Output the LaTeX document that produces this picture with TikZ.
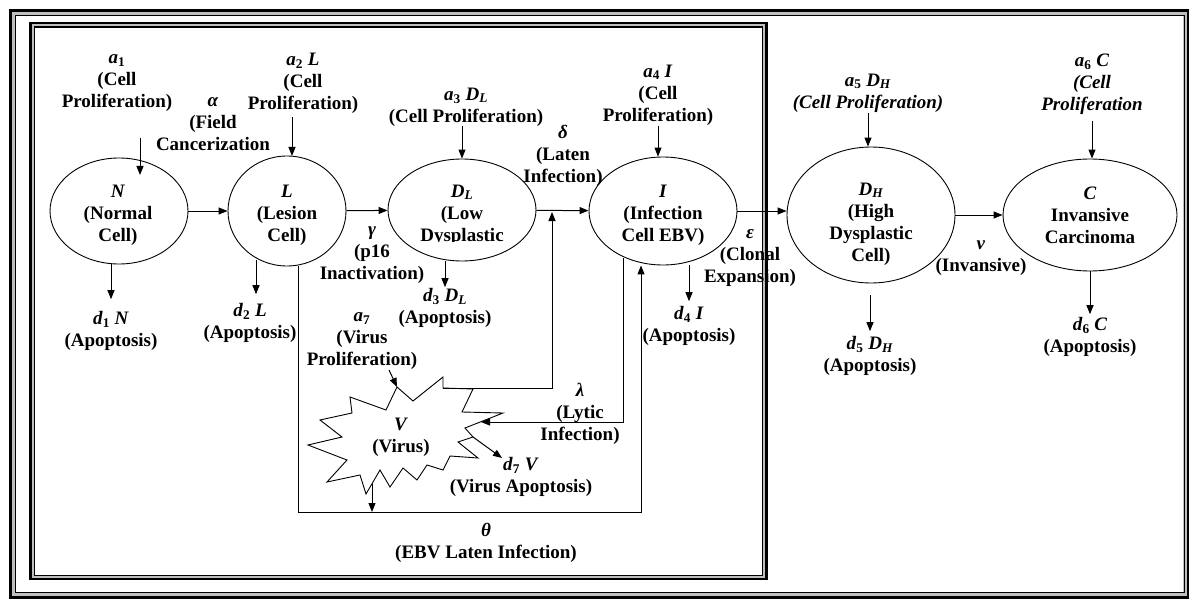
\documentclass[tikz,border=0pt]{standalone}
\usepackage{fontspec}
\setmainfont{Liberation Serif}
\usetikzlibrary{shapes.geometric,arrows.meta,calc}
\begin{document}
\begin{tikzpicture}[x=1pt,y=-1pt,
  every node/.style={font=\fontsize{19}{22}\selectfont\bfseries},
  lbl/.style={align=center,inner sep=0pt,yshift=-3pt},
  cell/.style={draw,ellipse,line width=0.9pt,inner sep=0pt},
  arr/.style={-{Triangle[length=9pt,width=7pt]},line width=1pt},
  bandline/.style={draw=gray!50},
  thickline/.style={draw=black,line width=2.6pt},
  thinline/.style={draw=black,line width=1.1pt}]
\useasboundingbox (0,0) rectangle (1189,599);
% outer frame
\draw[bandline,line width=6pt] (12.9,12.9) rectangle (1186.4,595);
\draw[thickline] (10.3,10.3) rectangle (1187.8,597.4);
\draw[thinline] (15.8,15.8) rectangle (1184.8,592.9);
% inner box
\draw[bandline,line width=4pt] (32.5,25) rectangle (764.5,577);
\draw[thickline] (30.5,23) rectangle (766.5,579);
\draw[thinline] (34.5,27) rectangle (762.5,575.5);

% cells
\node[cell,minimum width=138pt,minimum height=106pt] (N) at (119,211) {};
\node[lbl] (Nt) at (118,212) {\textit{N}\\(Normal\\Cell)};
\node[cell,minimum width=118pt,minimum height=110pt] (L) at (287,211) {};
\node[lbl] (Lt) at (287,212) {\textit{L}\\(Lesion\\Cell)};
\node[cell,minimum width=148pt,minimum height=102pt] (DL) at (462,210) {};
\begin{scope}
  \clip (380,150) rectangle (545,241);
  \node[lbl] (DLt) at (462,212) {\textit{D}\textsubscript{\textit{L}}\\(Low\\Dysplastic};
\end{scope}
\node[cell,minimum width=148pt,minimum height=108pt] (I) at (663,211) {};
\node[lbl] (It) at (663,212) {\textit{I}\\(Infection\\Cell EBV)};
\node[cell,minimum width=168pt,minimum height=136pt] (DH) at (871,215) {};
\node[lbl] (DHt) at (871,221) {\textit{D}\textsubscript{\textit{H}}\\(High\\Dysplastic\\Cell)};
\node[cell,minimum width=174pt,minimum height=112pt] (C) at (1090,215) {};
\node[lbl] (Ct) at (1090,212) {\textit{C}\\Invansive\\Carcinoma};

% labels
\node[lbl] (a1) at (117,80) {\textit{a}\textsubscript{1}\\(Cell\\Proliferation)};
\node[lbl] (al) at (213,121) {\textit{α}\\(Field\\Cancerization};
\node[lbl] (a2) at (303,80) {\textit{a}\textsubscript{2} \textit{L}\\(Cell\\Proliferation)};
\node[lbl] (a3) at (466,104) {\textit{a}\textsubscript{3} \textit{D}\textsubscript{\textit{L}}\\(Cell Proliferation)};
\node[lbl] (de) at (563,153) {\textit{δ}\\(Laten\\Infection)};
\node[lbl] (a4) at (658,92) {\textit{a}\textsubscript{4} \textit{I}\\(Cell\\Proliferation)};
\node[lbl] (a5) at (868,90) {\textit{a}\textsubscript{5} \textit{D}\textsubscript{\textit{H}}\\\textit{(Cell Proliferation)}};
\node[lbl] (a6) at (1092,81) {\textit{a}\textsubscript{6} \textit{C}\\\textit{(Cell}\\\textit{Proliferation}};
\node[lbl] (ga) at (372,252) {\textit{γ}\\(p16\\Inactivation)};
\node[lbl] (ep) at (750,255) {\textit{ε}\\(Clonal\\Expansion)};
\node[lbl] (nu) at (981,255) {\textit{ν}\\(Invansive)};
\node[lbl] (d1) at (111,328) {\textit{d}\textsubscript{1} \textit{N}\\(Apoptosis)};
\node[lbl] (d2) at (250,320) {\textit{d}\textsubscript{2} \textit{L}\\(Apoptosis)};
\node[lbl] (d3) at (445,305) {\textit{d}\textsubscript{3} \textit{D}\textsubscript{\textit{L}}\\(Apoptosis)};
\node[lbl] (d4) at (689,323) {\textit{d}\textsubscript{4} \textit{I}\\(Apoptosis)};
\node[lbl] (d5) at (870,353) {\textit{d}\textsubscript{5} \textit{D}\textsubscript{\textit{H}}\\(Apoptosis)};
\node[lbl] (d6) at (1090,334) {\textit{d}\textsubscript{6} \textit{C}\\(Apoptosis)};
\node[lbl] (a7) at (362,338) {\textit{a}\textsubscript{7}\\(Virus\\Proliferation)};
\node[lbl] (la) at (580,411) {\textit{λ}\\(Lytic\\Infection)};
\node[lbl] (d7) at (521,474) {\textit{d}\textsubscript{7} \textit{V}\\(Virus Apoptosis)};
\node[lbl] (th) at (486,540) {\textit{θ}\\(EBV Laten Infection)};

% virus star
\coordinate (v1) at (350,397); \coordinate (v2) at (386,410);
\coordinate (v3) at (397,387); \coordinate (v4) at (413,401);
\coordinate (v5) at (443,377); \coordinate (v6) at (443,388);
\coordinate (v7) at (473,389); \coordinate (v8) at (462,412);
\coordinate (v9) at (503,413); \coordinate (v10) at (465,428);
\coordinate (v11) at (473,437); \coordinate (v12) at (458,442);
\coordinate (v13) at (478,458); \coordinate (v14) at (450,456);
\coordinate (v15) at (443,470); \coordinate (v16) at (427,465);
\coordinate (v17) at (417,480); \coordinate (v18) at (403,468);
\coordinate (v19) at (390,487); \coordinate (v20) at (380,470);
\coordinate (v21) at (366,494); \coordinate (v22) at (360,475);
\coordinate (v23) at (327,482); \coordinate (v24) at (347,460);
\coordinate (v25) at (308,445); \coordinate (v26) at (342,437);
\coordinate (v27) at (320,420); \coordinate (v28) at (352,413);
\draw[line width=0.9pt,line join=miter] (v1) -- (v2) -- (v3) -- (v4) -- (v5) -- (v6) -- (v7) -- (v8) -- (v9) -- (v10)
  -- (v11) -- (v12) -- (v13) -- (v14) -- (v15) -- (v16) -- (v17) -- (v18) -- (v19) -- (v20)
  -- (v21) -- (v22) -- (v23) -- (v24) -- (v25) -- (v26) -- (v27) -- (v28) -- cycle;
\node[lbl] (V) at (401,434) {\textit{V}\\(Virus)};

% helper coordinates
\coordinate (ka1) at (140,175);
\coordinate (ka2) at (292,156);
\coordinate (kd2) at (256,260);
\coordinate (thb) at (298,512);
\coordinate (thr) at (641,512);
\coordinate (kvd) at (552,388);
\coordinate (kly0) at (623,258);
\coordinate (kly) at (623,422);
\coordinate (vly) at (481,422);
\coordinate (ka7) at (389,370);
\coordinate (kd7) at (502,458);
\coordinate (kvb) at (372,484);

% inflow arrows
\draw[arr,shorten <=26pt] (a1.south -| ka1) -- (ka1);
\draw[arr,shorten <=4pt] (a2.south -| ka2) -- (ka2);
\draw[arr] (a3.south -| DL.north) -- (DL.north);
\draw[arr,shorten <=1pt] (a4.south) -- (a4.south |- I.north);
\draw[arr,shorten <=1pt] (a5.south) -- (a5.south |- DH.north);
\draw[arr,shorten <=6pt] (a6.south) -- (a6.south |- C.north);

% chain
\draw[arr] (N) -- (L);
\draw[arr] (L) -- (DL);
\draw[arr] (DL) -- (I);
\draw[arr] (I.east) -- (I.east -| DH.west);
\draw[arr] (DH) -- (C);

% apoptosis arrows
\draw[arr,shorten >=12pt] (N.south -| d1.north) -- (d1.north);
\draw[arr,shorten >=9pt] (kd2) -- (kd2 |- d2.north);
\draw[arr,shorten >=1pt] (DL.south -| d3.north) -- (d3.north);
\draw[arr,shorten >=5pt] (I.south -| d4.north) -- (d4.north);
\draw[arr,shorten <=12pt,shorten >=5pt] (DH.south -| d5.north) -- (d5.north);
\draw[arr,shorten >=3pt] (C.south) -- (C.south |- d6.north);

% virus connections
\draw[arr] (L.south -| thb) -- (thb) -- (thr) -- (thr |- I.south);
\draw[arr] (kvb) -- (kvb |- thb);
\draw[arr] (v6) -- (kvd) -- ($(kvd |- DL.east)+(0,2)$);
\draw[arr] (kly0) -- (kly) -- (vly);
\draw[arr] (ka7) -- (v3);
\draw[arr] (v11) -- (kd7);
\end{tikzpicture}
\end{document}
